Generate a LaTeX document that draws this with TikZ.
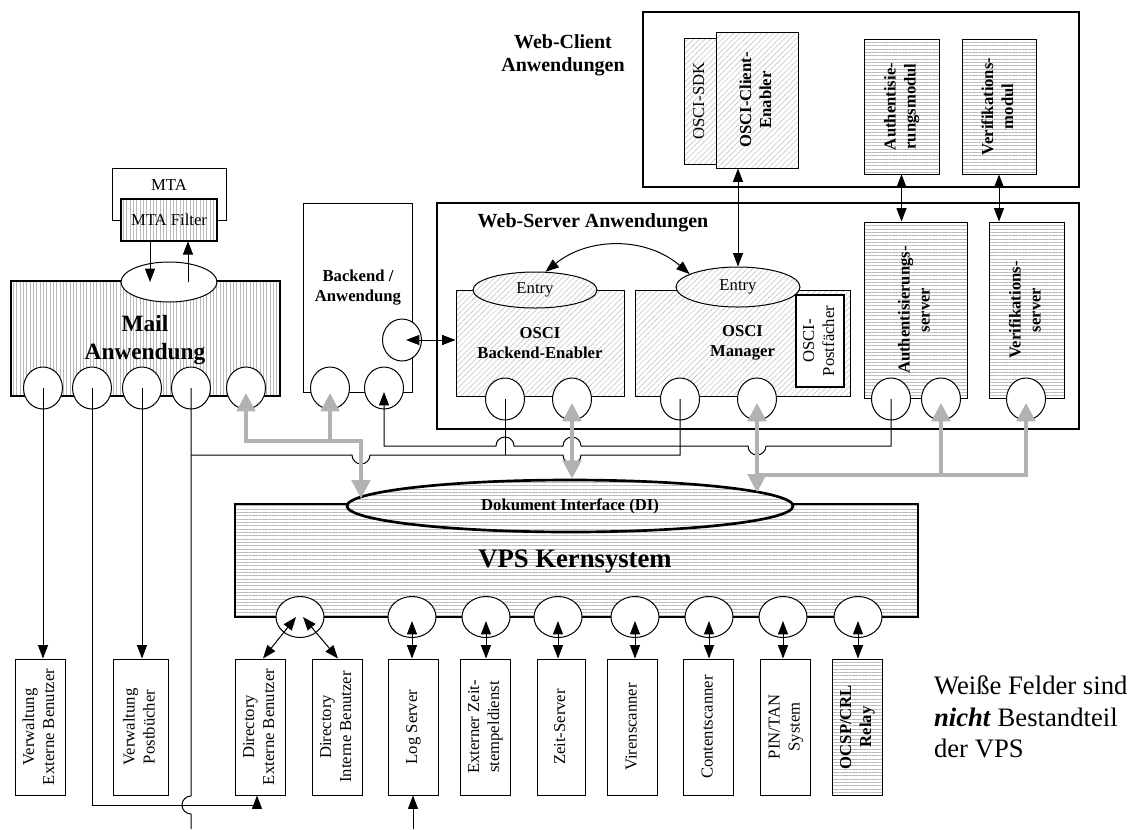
\documentclass[tikz,border=0pt]{standalone}
\usepackage{fontspec}
\setmainfont{Liberation Serif}
\usepackage{graphicx}
\usetikzlibrary{arrows.meta,patterns.meta,shapes.geometric,calc}
\newlength\px
\setlength\px{0.6pt}
\newcommand\vtext[1]{\rotatebox{90}{\begin{tabular}{@{}c@{}}#1\end{tabular}}}
\tikzset{
  shell/.style={draw, inner sep=0pt, align=center},
  whitebox/.style={shell, fill=white},
  heavy/.style={line width=1.6pt},
  hlines/.style={preaction={fill=white}, pattern={Lines[angle=0,distance=2pt,line width=0.3pt]}, pattern color=gray!55},
  vlines/.style={preaction={fill=white}, pattern={Lines[angle=90,distance=2pt,line width=0.3pt]}, pattern color=gray!55},
  dlines/.style={preaction={fill=white}, pattern={Lines[angle=45,distance=2.4pt,line width=0.3pt]}, pattern color=gray!50},
  socket/.style={draw, fill=white, ellipse, inner sep=0pt, minimum width=39\px, minimum height=42\px},
  lowsocket/.style={socket, minimum width=48\px, minimum height=41\px},
  entryshape/.style={draw, ellipse, inner sep=0pt, dlines, txt},
  txt/.style={font=\fontsize{10}{12}\selectfont},
  btxt/.style={font=\fontsize{10}{12}\selectfont\bfseries},
  titletext/.style={font=\fontsize{12}{14}\selectfont\bfseries, align=center},
  lowbox/.style={whitebox, txt, minimum width=50\px, minimum height=136\px},
  greylink/.style={draw=gray!60, line width=2.4pt, >={Triangle[length=11pt,width=11pt]}},
}
\begin{document}
\begin{tikzpicture}[x=0.6pt, y=-0.6pt, line width=0.6pt, >={Triangle[length=8pt,width=6pt]}]
\useasboundingbox (0,0) rectangle (1145,829);

% Web-Client
\node[shell, heavy, minimum width=436\px, minimum height=175\px] (webclient) at (861,99.5) {};
\node[titletext] (wclabel) at (563,55) {Web-Client\\Anwendungen};
\node[shell, dlines, txt, minimum width=32\px, minimum height=126\px] (sdk) at (700,101) {\vtext{OSCI-SDK}};
\node[shell, dlines, btxt, minimum width=82\px, minimum height=136\px] (clientenabler) at (757,100) {\vtext{OSCI-Client-\\Enabler}};
\node[shell, hlines, btxt, minimum width=75\px, minimum height=135\px] (authmod) at (901.5,106.5) {\vtext{Authentisie-\\rungsmodul}};
\node[shell, hlines, btxt, minimum width=74\px, minimum height=135\px] (verimod) at (999,106.5) {\vtext{Verifikations-\\modul}};

% Web-Server
\node[shell, heavy, minimum width=642\px, minimum height=226\px] (webserver) at (758,316) {};
\node[titletext] (wslabel) at (593,223) {Web-Server Anwendungen};
\node[shell, dlines, btxt, minimum width=168\px, minimum height=106\px] (backenabler) at (540,343) {OSCI\\Backend-Enabler};
\node[shell, dlines, btxt, minimum width=215\px, minimum height=106\px] (manager) at (742.5,343) {OSCI\\Manager};
\node[whitebox, txt, line width=1pt, minimum width=48\px, minimum height=92\px] (postfach) at (820,341) {\vtext{OSCI-\\Postfächer}};
\node[entryshape, minimum width=124\px, minimum height=36\px] (entry1) at (535,290) {Entry};
\node[entryshape, minimum width=124\px, minimum height=40\px] (entry2) at (738,287) {Entry};
\node[shell, hlines, btxt, minimum width=103\px, minimum height=176\px] (authsrv) at (915.5,310) {\vtext{Authentisierungs-\\server}};
\node[shell, hlines, btxt, minimum width=75\px, minimum height=176\px] (verisrv) at (1026.5,310) {\vtext{Verifikations-\\server}};
\foreach \n/\x in {be1/505, be2/572, mg1/680, mg2/757, as1/891, as2/941, vs1/1026}
  \node[socket] (\n) at (\x,399) {};

% Backend
\node[whitebox, minimum width=109\px, minimum height=189\px] (backend) at (357.5,297.5) {};
\node[btxt, align=center] (backendlabel) at (358,288) {Backend /\\Anwendung};
\node[socket] (bk1) at (330,388) {};
\node[socket] (bk2) at (384,388) {};
\node[socket] (bkside) at (402,340) {};

% Mail
\node[whitebox, minimum width=114\px, minimum height=52\px] (mta) at (169,194) {};
\node[txt] (mtalabel) at (169,185) {MTA};
\node[shell, heavy, vlines, txt, minimum width=96\px, minimum height=42\px] (filter) at (169,220) {MTA Filter};
\node[shell, heavy, vlines, minimum width=269\px, minimum height=115\px] (mail) at (145.5,338.5) {};
\node[font=\fontsize{14}{17}\selectfont\bfseries, align=center] (maillabel) at (145,340) {Mail\\Anwendung};
\node[socket, minimum width=96\px, minimum height=40\px] (mailtop) at (169,282) {};
\foreach \n/\x in {ml1/43, ml2/92, ml3/142, ml4/191, ml5/246}
  \node[socket] (\n) at (\x,388) {};

% VPS
\node[shell, heavy, hlines, minimum width=683\px, minimum height=113\px] (vps) at (576.5,560.5) {};
\node[font=\fontsize{16}{19}\selectfont\bfseries] (vpslabel) at (575,562) {VPS Kernsystem};
\node[draw, heavy, ellipse, inner sep=0pt, hlines, btxt, minimum width=446\px, minimum height=52\px] (di) at (570,506) {Dokument Interface (DI)};
\foreach \n/\x in {vc1/300, vc2/412, vc3/486, vc4/558, vc5/635, vc6/709, vc7/783, vc8/858}
  \node[lowsocket] (\n) at (\x,617) {};

% lower boxes
\node[lowbox] (verwext) at (40,727) {\vtext{Verwaltung\\Externe Benutzer}};
\node[lowbox, minimum width=55\px] (verwpost) at (140.5,727) {\vtext{Verwaltung\\Postbücher}};
\node[lowbox] (direxp) at (260,727) {\vtext{Directory\\Externe Benutzer}};
\node[lowbox] (dirint) at (337,727) {\vtext{Directory\\Interne Benutzer}};
\node[lowbox] (logsrv) at (413,727) {\vtext{Log Server}};
\node[lowbox] (zeitst) at (485,727) {\vtext{Externer Zeit-\\stempeldienst}};
\node[lowbox, minimum width=48\px] (zeitsrv) at (561,727) {\vtext{Zeit-Server}};
\node[lowbox] (viren) at (632.5,727) {\vtext{Virenscanner}};
\node[lowbox] (content) at (708.5,727) {\vtext{Contentscanner}};
\node[lowbox] (pintan) at (785.5,727) {\vtext{PIN/TAN\\System}};
\node[shell, hlines, btxt, minimum width=50\px, minimum height=136\px] (ocsp) at (857,727) {\vtext{OCSP/CRL\\Relay}};

\node[anchor=west, align=left, font=\fontsize{16}{19}\selectfont] (note) at (928,717) {Weiße Felder sind\\\textbf{\textit{nicht}} Bestandteil\\der VPS};

\coordinate (busA) at (0,455);
\coordinate (busB) at (0,446);
\coordinate (greyA) at (0,441);
\coordinate (greyB) at (0,475);
\coordinate (lowbus) at (0,805);
\coordinate (gjoin) at (361,441);
\coordinate (exit) at (191,829);

% black links
\draw[->] ([xshift=-19\px]filter.south) -- ([xshift=-19\px]mailtop.center);
\draw[->] ([xshift=19\px]mailtop.center) -- ([xshift=19\px]filter.south);
\draw[->] (ml1.center) -- (ml1 |- verwext.north);
\draw[->] (ml3.center) -- (ml3 |- verwpost.north);
\draw[->] (ml2.center) |- ($(direxp.south |- lowbus)+(-3,0)$) -- ($(direxp.south)+(-3,0)$);
\draw (ml4.center) -- ($(ml4 |- lowbus)+(0,-9)$) arc[start angle=90, end angle=270, radius=9\px] -- (exit);
\draw (ml4 |- busA) -- ($(gjoin |- busA)+(-9,0)$) arc[start angle=180, end angle=360, radius=9\px]
  -- ($(be2 |- busA)+(-9,0)$) arc[start angle=180, end angle=360, radius=9\px] -- (mg1 |- busA) -- (mg1.center);
\draw (be1.center) -- (be1 |- busA);
\draw[<-] ([yshift=-4\px]bk2.center) -- (bk2 |- busB) -- ($(be1 |- busB)+(-9,0)$) arc[start angle=180, end angle=0, radius=9\px]
  -- ($(be2 |- busB)+(-9,0)$) arc[start angle=180, end angle=0, radius=9\px]
  -- ($(mg2 |- busB)+(-9,0)$) arc[start angle=180, end angle=360, radius=9\px] -- (as1 |- busB) -- (as1.center);
\draw[<->] ([xshift=4\px]bkside.center) -- (bkside -| backenabler.west);
\draw[<->] (entry1.60) to[bend left=40] (entry2.165);
\draw[<->] (entry2.north |- clientenabler.south) -- (entry2.north);
\draw[<->] (authmod.south) -- (authmod.south |- authsrv.north);
\draw[<->] (verimod.south) -- (verimod.south |- verisrv.north);

% grey links
\draw[greylink, <->] ([yshift=-5\px]ml5.center) -- (greyA -| ml5) -- (gjoin) -- (di.178 -| gjoin);
\draw[greylink, ->] (greyA -| bk1) -- ([yshift=-5\px]bk1.center);
\draw[greylink, <->] ([yshift=-4\px]be2.center) -- (be2 |- di.north);
\draw[greylink, <->] ([yshift=-4\px]mg2.center) -- (mg2 |- di.4);
\draw[greylink, ->] (greyB -| mg2) -| ([yshift=-4\px]vs1.center);
\draw[greylink, ->] (greyB -| as2) -- ([yshift=-4\px]as2.center);

% VPS services
\draw[<->] ([xshift=-4\px]vc1.center) -- ([xshift=3\px]direxp.north);
\draw[<->] ([xshift=3\px]vc1.center) -- ([xshift=1\px]dirint.north);
\foreach \p/\b in {vc2/logsrv, vc3/zeitst, vc4/zeitsrv, vc5/viren, vc6/content, vc7/pintan, vc8/ocsp}
  \draw[<->] ([yshift=-4\px]\p.center) -- (\p |- \b.north);
\draw[->] (logsrv.south |- exit) -- (logsrv.south);
\end{tikzpicture}
\end{document}
